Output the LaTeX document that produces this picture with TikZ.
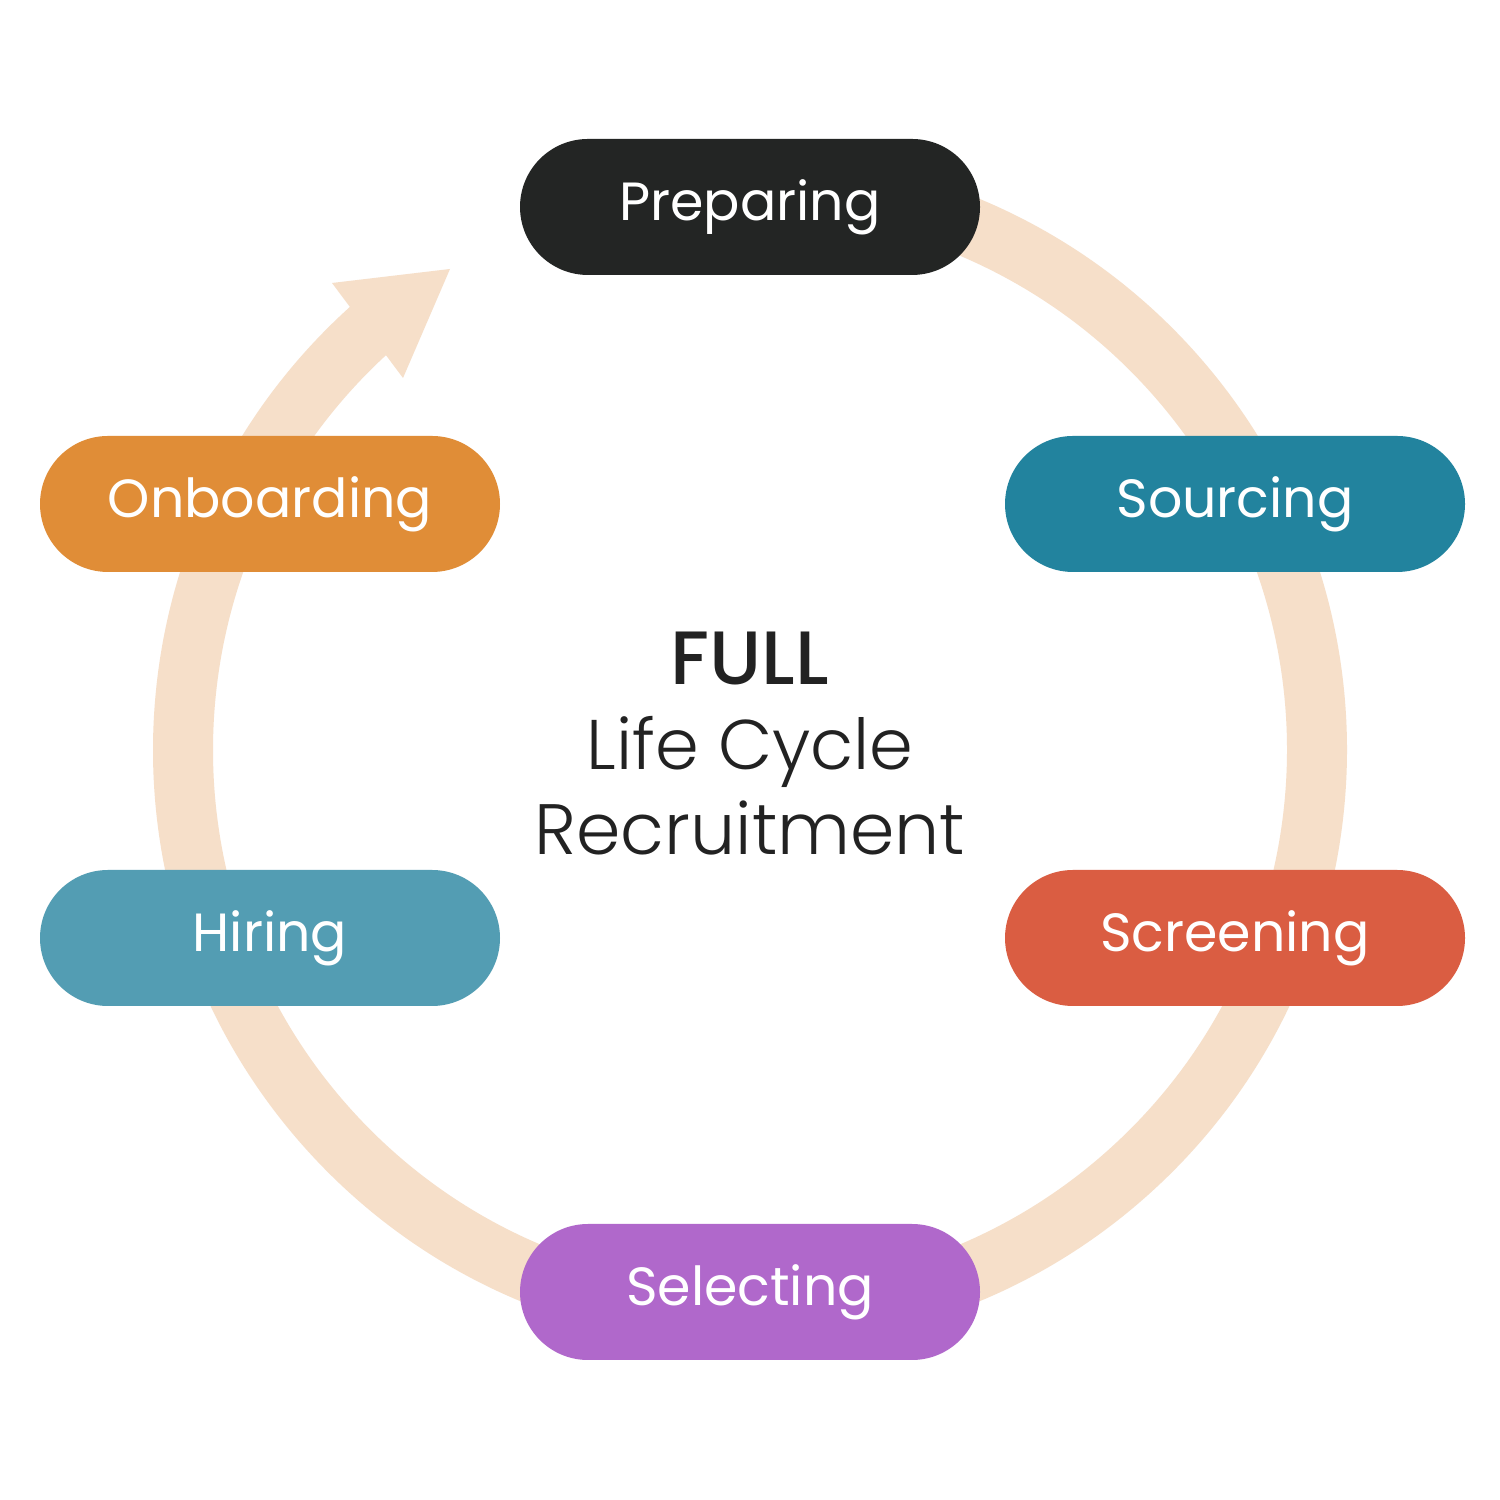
\documentclass[tikz,border=0pt]{standalone}
\usepackage{fontspec}
\setmainfont{Poppins}
\newfontfamily\lightfont{Poppins}[UprightFont={* Light}]
\newfontfamily\medfont{Poppins}[UprightFont={* Medium}]
\definecolor{ringc}{HTML}{F6DFC9}
\definecolor{cprep}{HTML}{232524}
\definecolor{csour}{HTML}{22839E}
\definecolor{cscre}{HTML}{DA5D42}
\definecolor{csele}{HTML}{B068CB}
\definecolor{chire}{HTML}{539DB3}
\definecolor{conb}{HTML}{E08D37}
\definecolor{ctext}{HTML}{222222}
\begin{document}
\begin{tikzpicture}[x=0.1mm,y=0.1mm,
  pill/.style={rectangle, rounded corners=6.8mm, minimum width=46mm, minimum height=13.6mm,
    inner sep=0pt, text=white, font=\fontsize{15.3}{18}\selectfont},
  ring/.style={draw=ringc, line width=6mm}]
\useasboundingbox (0,0) rectangle (1500,1500);
\fill[white] (0,0) rectangle (1500,1500);
\coordinate (c) at (750,750);
% ring with arrow
\draw[ring] (c) ++(132:567) arc[start angle=132, end angle=450, radius=567];
\coordinate (a1) at (332,1217);
\coordinate (a2) at (450,1231);
\coordinate (a3) at (403,1122);
\fill[ringc] (a1) -- (a2) -- (a3) -- cycle;
% pills
\node[pill, fill=cprep] (prep) at (750,1293) {Preparing};
\node[pill, fill=csour] (sour) at (1235,996) {Sourcing};
\node[pill, fill=cscre] (scre) at (1235,562) {Screening};
\node[pill, fill=csele] (sele) at (750,208) {Selecting};
\node[pill, fill=chire] (hire) at (270,562) {Hiring};
\node[pill, fill=conb] (onb) at (270,996) {Onboarding};
% centre text
\node[text=ctext, font=\medfont\fontsize{21.5}{24}\selectfont, anchor=base] (full) at (750,815) {FULL};
\node[text=ctext, font=\lightfont\fontsize{20}{24}\selectfont, anchor=base] (life) at (750,730) {Life Cycle};
\node[text=ctext, font=\lightfont\fontsize{20.3}{24}\selectfont, anchor=base] (recr) at (750,645) {Recruitment};
\end{tikzpicture}
\end{document}
